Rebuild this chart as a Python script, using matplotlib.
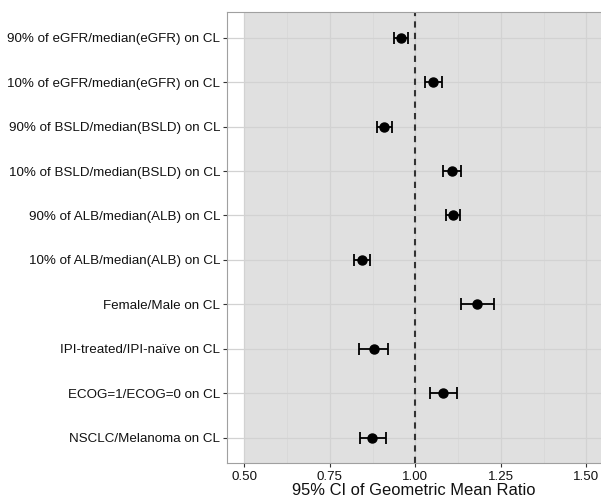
import matplotlib
matplotlib.use("Agg")
import matplotlib.pyplot as plt
from matplotlib.ticker import MultipleLocator

plt.rcParams['font.family'] = ['Liberation Sans', 'DejaVu Sans']

# covariate labels, top to bottom
labels = [
    "90% of eGFR/median(eGFR) on CL",
    "10% of eGFR/median(eGFR) on CL",
    "90% of BSLD/median(BSLD) on CL",
    "10% of BSLD/median(BSLD) on CL",
    "90% of ALB/median(ALB) on CL",
    "10% of ALB/median(ALB) on CL",
    "Female/Male on CL",
    "IPI-treated/IPI-naïve on CL",
    "ECOG=1/ECOG=0 on CL",
    "NSCLC/Melanoma on CL",
]
gmr = [0.958, 1.052, 0.908, 1.107, 1.110, 0.844, 1.180, 0.878, 1.080, 0.874]
lower = [0.939, 1.027, 0.887, 1.081, 1.091, 0.820, 1.134, 0.835, 1.042, 0.837]
upper = [0.979, 1.078, 0.931, 1.135, 1.132, 0.869, 1.231, 0.919, 1.122, 0.913]

n = len(labels)
ypos = [n - i for i in range(n)]
err_lo = [g - l for g, l in zip(gmr, lower)]
err_hi = [u - g for g, u in zip(gmr, upper)]

fig = plt.figure(figsize=(6.01, 4.97), dpi=100)
ax = fig.add_axes([227 / 601, 1 - 462.5 / 497, 374 / 601, 450.5 / 497])
ax.set_facecolor('white')

# shaded region of interest from 0.5 upward
ax.axvspan(0.5, 2.0, color='#e0e0e0', zorder=0.5, linewidth=0)

ax.xaxis.set_minor_locator(MultipleLocator(0.125))
ax.set_xticks([0.5, 0.75, 1.0, 1.25, 1.5])
ax.set_xticklabels(["0.50", "0.75", "1.00", "1.25", "1.50"])
ax.set_yticks(ypos)
ax.set_yticklabels(labels)

# grid drawn by hand so it sits above the shading but below the marks
ax.grid(False)
for xv in [0.5, 0.75, 1.0, 1.25, 1.5]:
    ax.axvline(xv, color='#d2d2d2', linewidth=0.9, zorder=1)
for xv in [0.625, 0.875, 1.125, 1.375]:
    ax.axvline(xv, color='#d8d8d8', linewidth=0.6, zorder=1)
for yv in ypos:
    ax.axhline(yv, color='#d2d2d2', linewidth=0.9, zorder=1)

ax.axvline(1.0, color='#333333', linestyle=(0, (3, 2.5)), linewidth=1.5, zorder=2)

ax.errorbar(gmr, ypos, xerr=[err_lo, err_hi], fmt='o', color='black',
            markersize=6.5, elinewidth=1.3, capsize=4, capthick=1.3, zorder=3)

ax.set_xlim(0.4495, 1.543)
ax.set_ylim(0.44, n + 0.58)

for s in ax.spines.values():
    s.set_color('#a0a0a0')
    s.set_linewidth(0.8)
ax.spines['right'].set_visible(False)

ax.tick_params(axis='y', length=3, color='#333333', labelsize=9.6, labelcolor='#111111', pad=2)
ax.tick_params(axis='x', length=3, color='#333333', labelsize=9.6, labelcolor='#111111', pad=3)
ax.tick_params(which='minor', length=0)
ax.set_xlabel("95% CI of Geometric Mean Ratio", fontsize=11.9, color='#111111', labelpad=0)

fig.savefig('out.png', dpi=100)
